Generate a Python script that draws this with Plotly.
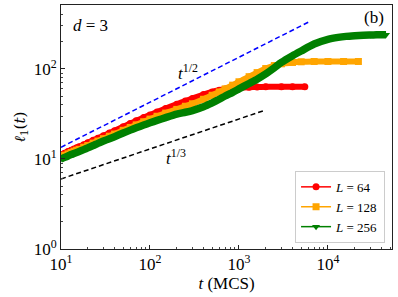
import plotly.graph_objects as go

# ---- data ----
t_red = [10, 11, 12, 13, 14, 15, 16, 18, 20, 23, 26, 30, 35, 40, 50, 60, 70, 85, 100, 120, 150,
         200, 250, 300, 400, 500, 600, 700, 850, 1000, 1300, 1600, 2000, 3000, 4000, 5500]
y_red = [11.2, 11.6, 12.1, 12.5, 12.9, 13.3, 13.7, 14.4, 15.1, 16.1, 17.0, 18.1, 19.4, 20.6, 22.8,
         24.8, 26.5, 28.8, 30.8, 33.2, 36.3, 40.5, 44.0, 47.0, 52.0, 55.5, 58.0, 59.8, 61.2, 62.0,
         62.7, 63.0, 63.2, 63.3, 63.3, 63.3]

t_orange = [10, 11, 12, 13, 14, 15, 16, 18, 20, 23, 26, 30, 35, 40, 50, 60, 70, 85, 100, 120, 150,
            200, 250, 300, 400, 500, 600, 700, 850, 1000, 1300, 1600, 2000, 2500, 3000, 4000, 5000,
            7000, 10000, 15000, 22000]
y_orange = [10.6, 11.0, 11.4, 11.8, 12.2, 12.5, 12.8, 13.5, 14.1, 15.0, 15.8, 16.8, 17.9, 18.9, 20.8,
            22.4, 23.9, 25.9, 27.7, 29.8, 32.3, 35.5, 38.5, 41.0, 46.0, 51.0, 55.5, 60.0, 66.0, 72.0,
            82.0, 91.0, 101.0, 109.0, 114.0, 118.0, 120.0, 121.0, 121.0, 121.0, 121.0]

t_green = [10, 11, 12, 13, 14, 15, 16, 18, 20, 23, 26, 30, 35, 40, 50, 60, 70, 85, 100, 120, 150,
           200, 250, 300, 400, 500, 600, 700, 850, 1000, 1300, 1600, 2000, 2500, 3000, 4000, 5000,
           7000, 10000, 13000, 16000, 20000, 25000, 30000, 35000, 45000]
y_green = [10.0, 10.4, 10.8, 11.2, 11.5, 11.8, 12.1, 12.7, 13.3, 14.1, 14.9, 15.8, 16.8, 17.7, 19.4,
           20.9, 22.2, 23.8, 25.2, 26.8, 28.8, 31.5, 33.0, 34.5, 38.0, 42.0, 46.0, 50.0, 55.0, 60.0,
           69.0, 77.0, 88.0, 103.0, 118.0, 140.0, 158.0, 189.0, 213.0, 224.0, 230.0, 234.0, 237.0,
           238.0, 239.0, 239.0]

guide_half_t = [10, 6000]
guide_half_y = [13.5, 330]
guide_third_t = [10, 2000]
guide_third_y = [6.0, 35.0]

x_tickvals = [10, 100, 1000, 10000]
x_ticktext = ["10<sup>1</sup>", "10<sup>2</sup>", "10<sup>3</sup>", "10<sup>4</sup>"]
y_tickvals = [1, 10, 100]
y_ticktext = ["10<sup>0</sup>", "10<sup>1</sup>", "10<sup>2</sup>"]

series = [
    ("<i>L</i> = 64", t_red, y_red, "#ff0000", "circle", 6),
    ("<i>L</i> = 128", t_orange, y_orange, "#ffa500", "square", 6),
    ("<i>L</i> = 256", t_green, y_green, "#008000", "triangle-down", 7.5),
]

FONT = "Liberation Serif"

fig = go.Figure()

# guide lines
fig.add_trace(go.Scatter(x=guide_half_t, y=guide_half_y, mode="lines",
                         line=dict(color="#0000ff", width=1.5, dash="5px,3px"), showlegend=False))
fig.add_trace(go.Scatter(x=guide_third_t, y=guide_third_y, mode="lines",
                         line=dict(color="#000000", width=1.5, dash="5px,3px"), showlegend=False))

for name, tx, ty, col, sym, w in series:
    fig.add_trace(go.Scatter(x=tx, y=ty, mode="lines+markers", showlegend=False,
                             line=dict(color=col, width=w, shape="spline", smoothing=0.6),
                             marker=dict(color=col, symbol=sym, size=7)))

for name, tx, ty, col, sym, w in series:
    fig.add_trace(go.Scatter(x=[None], y=[None], mode="lines+markers", name=name,
                             line=dict(color=col, width=1.5),
                             marker=dict(color=col, symbol=sym, size=7)))

axis_common = dict(type="log", showline=True, linecolor="#222", linewidth=1, mirror=True,
                   ticks="inside", ticklen=4, tickcolor="#222", showgrid=False, zeroline=False,
                   automargin=False,
                   tickfont=dict(family=FONT, size=17, color="#000"),
                   minor=dict(ticks="inside", ticklen=2, tickcolor="#444", dtick="D1", showgrid=False))

fig.update_xaxes(range=[1, 4.72], tickvals=x_tickvals, ticktext=x_ticktext,
                 title=dict(text="<i>t</i> (MCS)", font=dict(family=FONT, size=17, color="#000"),
                            standoff=2), **axis_common)
fig.update_yaxes(range=[0, 2.71], tickvals=y_tickvals, ticktext=y_ticktext,
                 title=dict(text="<i>ℓ</i><sub>1</sub>(<i>t</i>)",
                            font=dict(family="DejaVu Serif", size=15, color="#000"),
                            standoff=4), **axis_common)

ann_font = dict(family=FONT, size=17, color="#000")
ann_common = dict(xref="paper", yref="paper", showarrow=False, font=ann_font,
                  xanchor="center", yanchor="middle")
fig.add_annotation(x=0.088, y=0.918, text="<i>d</i> = 3", **ann_common)
fig.add_annotation(x=0.946, y=0.947, text="(b)", **ann_common)
fig.add_annotation(x=0.384, y=0.725, text="<i>t</i><sup>1/2</sup>", **ann_common)
fig.add_annotation(x=0.347, y=0.377, text="<i>t</i><sup>1/3</sup>", **ann_common)

fig.update_layout(
    width=398, height=297,
    margin=dict(l=61, r=6, t=5, b=48, autoexpand=False),
    paper_bgcolor="white", plot_bgcolor="white",
    legend=dict(x=0.979, y=0.025, xanchor="right", yanchor="bottom",
                bgcolor="white", bordercolor="#cccccc", borderwidth=1,
                font=dict(family=FONT, size=13, color="#000"),
                itemwidth=30, tracegroupgap=0),
)

fig.write_html("out.html", config={"displayModeBar": False},
               post_script="document.body.style.margin='0';")
